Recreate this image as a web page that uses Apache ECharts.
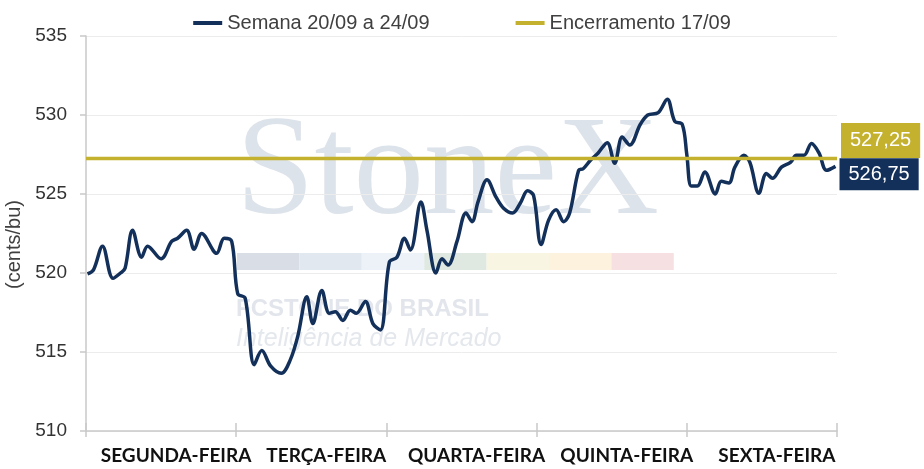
<!DOCTYPE html>
<html>
<head>
<meta charset="utf-8">
<script src="https://cdn.jsdelivr.net/npm/echarts@6/dist/echarts.min.js"></script>
<style>
  html, body { margin: 0; padding: 0; background: #fff; }
  #chart { width: 924px; height: 469px; }
</style>
</head>
<body>
<div id="chart"></div>
<script>
// dias da semana (eixo x)
var dias = ['SEGUNDA-FEIRA', 'TERÇA-FEIRA', 'QUARTA-FEIRA', 'QUINTA-FEIRA', 'SEXTA-FEIRA'];

// posicao de cada cotacao dentro da semana (0 = inicio da segunda, 5 = fim da sexta)
var tempo = [
  0.01, 0.05, 0.11, 0.18, 0.23, 0.26, 0.31, 0.37, 0.41, 0.50,
  0.57, 0.61, 0.67, 0.72, 0.77, 0.87, 0.92, 0.97,
  1.01, 1.06, 1.12, 1.17, 1.23, 1.30, 1.36, 1.41, 1.47, 1.51,
  1.57, 1.62, 1.66, 1.71, 1.76, 1.80, 1.86, 1.91, 1.96,
  2.02, 2.07, 2.12, 2.16, 2.23, 2.27, 2.33, 2.37, 2.41, 2.47,
  2.53, 2.57, 2.61, 2.67, 2.73, 2.78, 2.84, 2.89, 2.94, 2.98,
  3.03, 3.08, 3.13, 3.18, 3.22, 3.28, 3.31, 3.36, 3.41, 3.47,
  3.52, 3.57, 3.62, 3.69, 3.74, 3.81, 3.87, 3.92, 3.97,
  4.00, 4.03, 4.07, 4.12, 4.19, 4.23, 4.28, 4.32, 4.38, 4.42,
  4.48, 4.53, 4.57, 4.63, 4.69, 4.73, 4.78, 4.83, 4.88, 4.93, 4.99
];
// Semana 20/09 a 24/09 (cents/bu)
var semana = [
  519.94, 520.2, 521.7, 519.66, 520.0, 520.3, 522.7, 521.0, 521.7, 520.9,
  522.0, 522.2, 522.7, 521.5, 522.5, 521.25, 522.2, 522.0,
  518.7, 518.4, 514.2, 515.1, 514.1, 513.65, 514.5, 516.0, 518.5, 516.8,
  518.9, 517.45, 517.55, 517.0, 517.65, 517.45, 518.2, 516.8, 516.4,
  520.7, 521.0, 522.2, 521.45, 524.5, 522.7, 520.0, 520.9, 520.5, 522.0,
  523.8, 523.25, 524.5, 525.9, 524.8, 524.1, 523.8, 524.4, 525.2, 524.9,
  521.8, 523.35, 524.0, 523.25, 523.8, 526.5, 526.6, 527.15, 527.6, 528.25,
  526.95, 528.6, 528.1, 529.4, 530.0, 530.15, 531.0, 529.6, 529.4,
  527.5, 525.5, 525.5, 526.4, 525.0, 525.8, 525.7, 526.7, 527.45, 527.0,
  525.05, 526.3, 526.0, 526.7, 527.0, 527.45, 527.45, 528.2, 527.6, 526.5, 526.75
];
// Encerramento 17/09
var encerramento = 527.25;

var yTicks = [510, 515, 520, 525, 530, 535];

var azul = '#13305a';
var ouro = '#c4b22f';
var cinza = '#c9c9c9';

function fmt(v) { return v.toFixed(2).replace('.', ','); }

var chart = echarts.init(document.getElementById('chart'), null, { renderer: 'canvas' });

// marca d'agua ao fundo
var faixas = ['#d9dee6', '#e2e8ef', '#ecf2f8', '#dfe9e2', '#f8f6e2', '#fdf2de', '#f6e0e2'];
var marca = [
  { type: 'text', x: 236, y: 176, z: -10, silent: true,
    style: { text: 'StoneX', font: '141px "Liberation Serif", serif', fill: '#dde3ea', verticalAlign: 'middle' } },
  { type: 'text', x: 236, y: 309, z: -10, silent: true,
    style: { text: 'FCSTONE DO BRASIL', font: 'bold 24px "Liberation Sans", sans-serif', fill: '#e2e6ec', verticalAlign: 'middle' } },
  { type: 'text', x: 236, y: 339, z: -10, silent: true,
    style: { text: 'Inteligência de Mercado', font: 'italic 25px "Liberation Sans", sans-serif', fill: '#e4e8ed', verticalAlign: 'middle' } }
];
faixas.forEach(function (c, i) {
  marca.push({ type: 'rect', z: -10, silent: true,
    shape: { x: 237 + i * 62.4, y: 253, width: 62.4, height: 17 },
    style: { fill: c } });
});

var option = {
  animation: false,
  backgroundColor: '#fff',
  graphic: marca,
  grid: { left: 86, right: 87, top: 36, bottom: 38, containLabel: false, outerBoundsMode: 'none' },
  legend: {
    top: 8,
    left: 'center',
    itemGap: 86,
    icon: 'rect',
    itemWidth: 29,
    itemHeight: 4,
    textStyle: { fontFamily: '"Liberation Sans", Arial, sans-serif', fontSize: 20, color: '#404040' },
    data: ['Semana 20/09 a 24/09', 'Encerramento 17/09']
  },
  xAxis: [{
    type: 'category',
    data: dias,
    boundaryGap: true,
    axisLine: { lineStyle: { color: cinza, width: 1.5 } },
    axisTick: { show: true, length: 6, interval: 0, lineStyle: { color: cinza, width: 1.5 } },
    axisLabel: {
      interval: 0,
      margin: 15,
      padding: [0, 0, 0, 30],
      fontFamily: 'Lato, "Liberation Sans", Arial, sans-serif',
      fontWeight: 'bold',
      fontSize: 19,
      color: '#111'
    },
    splitLine: { show: false }
  }, {
    type: 'value',
    min: 0,
    max: 5,
    interval: 1,
    position: 'bottom',
    axisLine: { show: false },
    axisTick: { show: true, inside: true, length: 8, lineStyle: { color: cinza, width: 1.5 } },
    axisLabel: { show: false },
    splitLine: { show: false }
  }],
  yAxis: {
    type: 'value',
    min: yTicks[0],
    max: yTicks[yTicks.length - 1],
    interval: 5,
    name: '(cents/bu)',
    nameLocation: 'middle',
    nameRotate: 90,
    nameGap: 54,
    nameTextStyle: { fontFamily: '"Liberation Sans", Arial, sans-serif', fontSize: 20, color: '#404040', padding: [0, 22, 0, 0] },
    axisLine: { show: true, lineStyle: { color: cinza, width: 1.5 } },
    axisTick: { show: true, length: 6, lineStyle: { color: cinza, width: 1.5 } },
    axisLabel: { margin: 19, fontFamily: '"Liberation Sans", Arial, sans-serif', fontSize: 19, color: '#333' },
    splitLine: { show: true, lineStyle: { color: '#ececec', width: 1 } }
  },
  series: [{
    name: 'Semana 20/09 a 24/09',
    type: 'line',
    xAxisIndex: 1,
    data: tempo.map(function (t, i) { return [t, semana[i]]; }),
    smooth: 0.35,
    showSymbol: false,
    symbol: 'none',
    lineStyle: { color: azul, width: 3.5 },
    itemStyle: { color: azul },
    z: 3,
    endLabel: {
      show: true,
      formatter: function (p) { return fmt(p.value[1]); },
      distance: 4,
      offset: [0, 8],
      backgroundColor: azul,
      color: '#fff',
      fontFamily: '"Liberation Sans", Arial, sans-serif',
      fontSize: 20,
      lineHeight: 20,
      padding: [6, 9, 6, 9]
    }
  }, {
    name: 'Encerramento 17/09',
    type: 'line',
    xAxisIndex: 1,
    data: [[0, encerramento], [5, encerramento]],
    showSymbol: false,
    symbol: 'none',
    lineStyle: { color: ouro, width: 3.5 },
    itemStyle: { color: ouro },
    z: 4,
    endLabel: {
      show: true,
      formatter: function (p) { return fmt(p.value[1]); },
      distance: 4,
      offset: [0, -18],
      backgroundColor: ouro,
      color: '#fff',
      fontFamily: '"Liberation Sans", Arial, sans-serif',
      fontSize: 20,
      lineHeight: 20,
      padding: [8, 9, 7, 9]
    }
  }]
};

chart.setOption(option);
</script>
</body>
</html>
